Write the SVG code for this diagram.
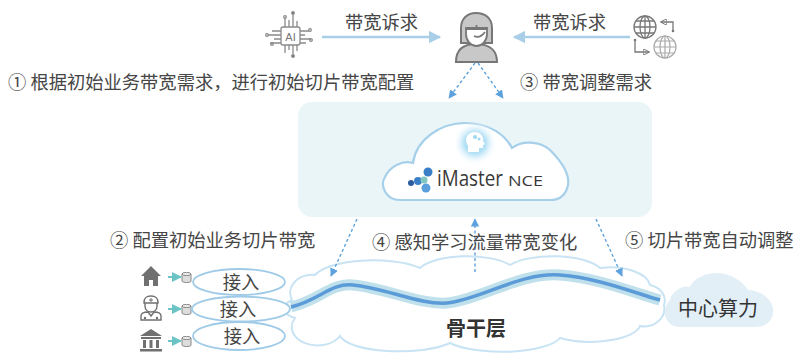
<svg xmlns="http://www.w3.org/2000/svg" width="795" height="353" viewBox="0 0 795 353">
  <style>
    .t{font-family:"Noto Sans CJK SC","Noto Sans",sans-serif;font-size:18.3px;fill:#464646}
    .big{font-family:"Noto Sans CJK SC","Noto Sans",sans-serif;font-size:20px;fill:#333}
    .req{stroke:#a9cfe8;stroke-width:2.5;fill:none}
    .dash{stroke:#5da2dc;stroke-width:1.4;stroke-dasharray:3 2.5;fill:none}
    .acc{fill:#fff;stroke:#9fcbe8;stroke-width:1.8}
  </style>
  <defs>
    <marker id="ah" viewBox="0 0 10 10" refX="9" refY="5" markerWidth="5" markerHeight="5" orient="auto">
      <path d="M0 0L10 5L0 10z" fill="#a9cfe8"/>
    </marker>
    <marker id="dh" viewBox="0 0 10 10" refX="9" refY="5" markerWidth="6" markerHeight="6" orient="auto">
      <path d="M0 0L10 5L0 10z" fill="#5da2dc"/>
    </marker>
    <marker id="th" viewBox="0 0 10 10" refX="9" refY="5" markerWidth="5" markerHeight="5" orient="auto">
      <path d="M0 0L10 5L0 10z" fill="#6cc3c6"/>
    </marker>
    <marker id="gh" viewBox="0 0 10 10" refX="9" refY="5" markerWidth="5" markerHeight="5" orient="auto">
      <path d="M0 0L10 5L0 10z" fill="none" stroke="#777" stroke-width="1.5"/>
    </marker>
    <radialGradient id="glow" cx="0.5" cy="0.5" r="0.5">
      <stop offset="0" stop-color="#7fcdf0"/>
      <stop offset="0.5" stop-color="#b8e3f6"/>
      <stop offset="1" stop-color="#ffffff" stop-opacity="0"/>
    </radialGradient>
  </defs>

  <!-- control panel background -->
  <g id="panel">
    <rect x="298" y="102" width="354" height="115" rx="14" fill="#eaf5f8"/>
  </g>

  <!-- AI application -->
  <g id="ai" stroke="#8a8a8a" stroke-width="1.3" fill="none">
    <rect x="281" y="27" width="19" height="18" rx="2"/>
    <text x="290.5" y="41" text-anchor="middle" font-family="Liberation Sans,sans-serif" font-size="11" fill="#777" stroke="none">AI</text>
    <path d="M285 27V18M289 27V20M293 27V15M297 27V21M285 45V53M289 45V50M293 45V54M297 45V51M281 31H272M281 35H268M281 39H274M281 43H270M300 31H309M300 35H305M300 39H311M300 43H306"/>
    <circle cx="293" cy="13" r="1.3" fill="#777"/>
    <circle cx="285" cy="17" r="1.3"/>
    <circle cx="267" cy="35" r="1.3"/>
    <circle cx="310" cy="30" r="1.3"/>
    <circle cx="293" cy="56" r="1.3" fill="#777"/>
    <circle cx="272" cy="44" r="1.3"/>
    <circle cx="311" cy="40" r="1.3"/>
  </g>

  <!-- operator -->
  <g id="operator">
    <path d="M456 62 C456 50 463 44 476 44 C489 44 497 50 497 62 Z" fill="#c8c8c8" stroke="#777" stroke-width="2"/>
    <path d="M461 43 V28 C461 18 468 13 476 13 C485 13 492 18 492 28 V43 Z" fill="#c8c8c8" stroke="#777" stroke-width="2"/>
    <path d="M466 28 H487 V34 C487 41 482 46 476.5 46 C471 46 466 41 466 34 Z" fill="#fff" stroke="#777" stroke-width="1.8"/>
    <path d="M466 29 H487 M476.5 25 V29 M474 36 C478 38 482 36 485 32" fill="none" stroke="#777" stroke-width="1.8"/>
  </g>

  <!-- cross-domain services -->
  <g id="globes" fill="none">
    <g stroke="#777" stroke-width="1.3">
      <circle cx="645" cy="27" r="11"/>
      <ellipse cx="645" cy="27" rx="5" ry="11"/>
      <path d="M634 27H656M636 21H654M636 33H654M645 16V38"/>
    </g>
    <g stroke="#aaa" stroke-width="1.2">
      <circle cx="665" cy="47" r="11"/>
      <ellipse cx="665" cy="47" rx="5" ry="11"/>
      <path d="M654 47H676M656 41H674M656 53H674M665 36V58"/>
    </g>
    <path d="M673 31V22H661" stroke="#777" stroke-width="1.3" marker-end="url(#gh)"/>
    <circle cx="673" cy="31" r="1.3" fill="#777"/>
    <path d="M635 40V52H649" stroke="#777" stroke-width="1.3" marker-end="url(#gh)"/>
    <circle cx="635" cy="40" r="1.3" fill="#777"/>
  </g>

  <!-- iMaster NCE controller -->
  <g id="nce">
    <path d="M400 200 C385 200 380 185 385 177 C390 166 403 160 413 163 C416 140 440 123 465 123 C490 123 505 135 512 148 C522 140 540 141 550 150 C560 160 570 173 568 185 C566 195 560 200 550 200 Z" fill="#fff" stroke="#a6d0ea" stroke-width="2.2"/>
    <circle cx="475" cy="143" r="22" fill="url(#glow)"/>
    <path d="M468 152 V146 C464 140 466 133 474 132 C481 132 484 137 483 141 L485 144 L483 145 V148 H479 V152 Z" fill="#fff"/>
    <circle cx="475" cy="137" r="2" fill="#9fd8f2"/>
    <circle cx="479" cy="139" r="1.5" fill="#9fd8f2"/>
    <circle cx="428" cy="172" r="4.5" fill="#3b7ec8"/>
    <circle cx="418" cy="181" r="4" fill="#3b7ec8"/>
    <circle cx="411" cy="183" r="3" fill="#2c5c9e"/>
    <circle cx="424" cy="180" r="3.5" fill="#7fc7c0"/>
    <circle cx="426" cy="188" r="4.5" fill="#5b9fdc"/>
    <text x="437" y="186" font-family="Open Sans,sans-serif" font-size="21" fill="#3a3a3a" textLength="66" lengthAdjust="spacingAndGlyphs">iMaster</text>
    <text x="508" y="186" font-family="Open Sans,sans-serif" font-size="15" fill="#3a3a3a" textLength="35" lengthAdjust="spacingAndGlyphs">NCE</text>
  </g>

  <!-- backbone layer -->
  <g id="backbone">
    <path d="M292 300 A22 18 0 0 1 315 275 A60 20 0 0 1 420 268 A50 18 0 0 1 510 265 A50 18 0 0 1 600 268 A40 20 0 0 1 650 285 A20 16 0 0 1 664 305 A20 18 0 0 1 640 326 A50 18 0 0 1 560 338 A60 18 0 0 1 450 343 A60 18 0 0 1 340 336 A25 18 0 0 1 295 318 A15 10 0 0 1 292 300 Z" fill="#fff" stroke="#c8e3f3" stroke-width="2"/>
    <path d="M291 307 C320 300 330 283 353 285 C385 288 420 305 447 303 C480 300 520 272 560 275 C600 278 640 295 660 300" fill="none" stroke="#c0e1ec" stroke-width="11"/>
    <path d="M291 307 C320 300 330 283 353 285 C385 288 420 305 447 303 C480 300 520 272 560 275 C600 278 640 295 660 300" fill="none" stroke="#5b9bd8" stroke-width="3.5"/>
    <text class="big" x="476" y="336" text-anchor="middle" font-weight="bold">骨干层</text>
  </g>

  <!-- central compute -->
  <g id="compute">
    <path d="M680 327 C665 327 660 310 670 300 C672 291 683 285 690 287 C695 275 715 270 728 275 C738 278 745 285 748 290 C760 290 775 300 773 313 C772 322 765 327 755 327 Z" fill="#e2eff7"/>
    <text class="big" x="718" y="316" text-anchor="middle">中心算力</text>
  </g>

  <!-- access: home -->
  <g id="access-home">
    <path d="M141 276 L151 266 L161 276 H158 V286 H153 V280 H149 V286 H144 V276 Z" fill="#707070"/>
    <path d="M182 274 V281 C182 283 191 283 191 281 V274" fill="#ddd" stroke="#888" stroke-width="1"/>
    <ellipse cx="186.5" cy="274" rx="4.5" ry="1.6" fill="#eee" stroke="#888" stroke-width="1"/>
    <ellipse class="acc" cx="239" cy="282" rx="46" ry="13"/>
    <text class="t" x="241" y="289" text-anchor="middle">接入</text>
  </g>

  <!-- access: hospital -->
  <g id="access-hospital">
    <path d="M144 303 C144 297 147 296 151 296 C155 296 158 297 158 303 Z" fill="none" stroke="#707070" stroke-width="1.4"/>
    <path d="M151 298 V302 M149 300 H153" stroke="#707070" stroke-width="1"/>
    <path d="M145 303 V306 C145 310 148 312 151 312 C154 312 157 310 157 306 V303" fill="none" stroke="#707070" stroke-width="1.4"/>
    <path d="M141 320 V316 C141 313 145 312 148 312 L151 316 L154 312 C157 312 161 313 161 316 V320 Z" fill="none" stroke="#707070" stroke-width="1.4"/>
    <circle cx="145" cy="318" r="1.2" fill="#707070"/>
    <circle cx="157" cy="318" r="1.2" fill="#707070"/>
    <path d="M182 306 V313 C182 315 191 315 191 313 V306" fill="#ddd" stroke="#888" stroke-width="1"/>
    <ellipse cx="186.5" cy="306" rx="4.5" ry="1.6" fill="#eee" stroke="#888" stroke-width="1"/>
    <ellipse class="acc" cx="241" cy="309" rx="49" ry="12.5"/>
    <text class="t" x="238" y="316" text-anchor="middle">接入</text>
  </g>

  <!-- access: bank -->
  <g id="access-bank" fill="#707070">
    <path d="M140 336 L151 329 L162 336 Z"/>
    <rect x="141" y="337" width="20" height="2"/>
    <rect x="143" y="340" width="3" height="8"/>
    <rect x="149.5" y="340" width="3" height="8"/>
    <rect x="156" y="340" width="3" height="8"/>
    <rect x="140" y="349" width="22" height="2.5"/>
    <path d="M182 338 V345 C182 347 191 347 191 345 V338" fill="#ddd" stroke="#888" stroke-width="1"/>
    <ellipse cx="186.5" cy="338" rx="4.5" ry="1.6" fill="#eee" stroke="#888" stroke-width="1"/>
    <ellipse class="acc" cx="239" cy="336" rx="46" ry="14"/>
    <text class="t" x="242" y="343" text-anchor="middle">接入</text>
  </g>

  <!-- connectors -->
  <g id="connectors">
    <line class="req" x1="322" y1="37" x2="440" y2="37" marker-end="url(#ah)"/>
    <line class="req" x1="630" y1="37" x2="514" y2="37" marker-end="url(#ah)"/>
    <line class="dash" x1="475" y1="63" x2="449" y2="98" marker-end="url(#dh)"/>
    <line class="dash" x1="478" y1="63" x2="503" y2="98" marker-end="url(#dh)"/>
    <line class="dash" x1="357" y1="219" x2="331" y2="276" marker-end="url(#dh)"/>
    <line class="dash" x1="475" y1="272" x2="475" y2="219" marker-end="url(#dh)"/>
    <line class="dash" x1="596" y1="219" x2="622" y2="276" marker-end="url(#dh)"/>
    <line x1="168" y1="277" x2="181" y2="277" stroke="#6cc3c6" stroke-width="2" marker-end="url(#th)"/>
    <line x1="168" y1="309" x2="181" y2="309" stroke="#6cc3c6" stroke-width="2" marker-end="url(#th)"/>
    <line x1="168" y1="341" x2="181" y2="341" stroke="#6cc3c6" stroke-width="2" marker-end="url(#th)"/>
  </g>

  <!-- labels -->
  <g id="labels">
    <text class="t" x="345" y="29">带宽诉求</text>
    <text class="t" x="533" y="29">带宽诉求</text>
    <text class="t" x="8" y="89">① 根据初始业务带宽需求，进行初始切片带宽配置</text>
    <text class="t" x="520" y="89">③ 带宽调整需求</text>
    <text class="t" x="110" y="247">② 配置初始业务切片带宽</text>
    <text class="t" x="372" y="249">④ 感知学习流量带宽变化</text>
    <text class="t" x="625" y="247">⑤ 切片带宽自动调整</text>
  </g>
</svg>
